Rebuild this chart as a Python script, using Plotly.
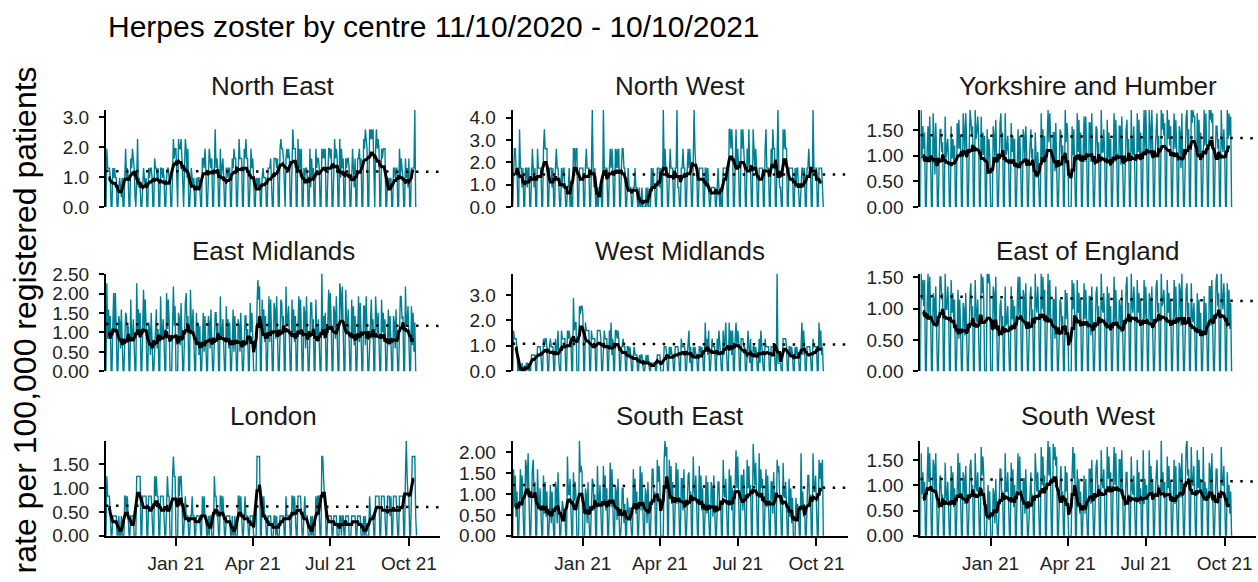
import pandas as pd
import plotly.graph_objects as go

# ---------------- data ----------------
start_date = "2020-10-11"
axis_end = "2021-11-06 12:00"
dates = pd.date_range(start_date, periods=365, freq="D")

centres = ["North East", "North West", "Yorkshire and Humber",
           "East Midlands", "West Midlands", "East of England",
           "London", "South East", "South West"]

# rate per 100,000 = daily count * unit
units = [0.325, 0.87, 0.063, 0.084, 0.32, 0.052, 0.0415, 0.076, 0.063]

# dotted reference line (start value, end value)
ref_start = [1.20, 1.45, 1.40, 1.22, 1.08, 1.20, 0.63, 1.22, 1.13]
ref_end = [1.18, 1.45, 1.34, 1.17, 1.05, 1.12, 0.60, 1.15, 1.08]

y_ticks = [[0, 1, 2, 3], [0, 1, 2, 3, 4], [0, 0.5, 1, 1.5],
           [0, 0.5, 1, 1.5, 2, 2.5], [0, 1, 2, 3], [0, 0.5, 1, 1.5],
           [0, 0.5, 1, 1.5], [0, 0.5, 1, 1.5, 2], [0, 0.5, 1, 1.5]]
y_fmt = [".1f", ".1f", ".2f", ".2f", ".1f", ".2f", ".2f", ".2f", ".2f"]

x_tick_dates = ["2021-01-01", "2021-04-01", "2021-07-01", "2021-10-01"]
x_tick_text = ["Jan 21", "Apr 21", "Jul 21", "Oct 21"]

ne_counts = [
0,6,4,4,4,3,0, 0,4,3,4,3,3,0, 0,2,3,2,1,3,0, 0,4,6,3,4,3,0,
0,5,4,6,5,4,1, 0,3,7,2,3,2,0, 0,3,4,3,2,3,0, 0,4,3,4,4,3,0,
0,5,4,4,3,4,0, 0,4,4,3,4,3,0, 0,3,4,4,3,3,0, 0,6,7,5,6,6,1,
0,7,6,6,7,5,1, 0,4,7,6,3,6,0, 0,3,4,3,2,3,0, 0,3,2,3,3,2,0,
0,5,5,4,6,4,0, 0,5,6,5,4,5,0, 0,4,8,4,5,4,0, 0,6,3,4,5,3,0,
0,4,4,3,4,4,0, 0,5,4,6,5,5,0, 0,5,7,5,5,5,0, 0,6,5,7,5,5,0,
0,3,6,4,5,3,0, 0,3,2,3,2,3,0, 0,3,4,3,3,3,0, 0,4,4,4,5,3,0,
0,5,5,5,4,5,0, 0,6,7,6,6,5,1, 0,5,6,5,6,5,0, 0,7,8,6,6,6,0,
0,7,4,6,3,6,0, 0,4,3,4,4,3,0, 0,6,2,5,3,4,0, 0,6,4,5,5,4,0,
0,6,5,6,5,6,0, 0,5,6,6,5,6,0, 0,6,7,5,6,5,0, 0,7,3,6,4,5,0,
0,5,4,5,5,4,0, 0,3,6,4,2,5,0, 0,5,5,6,4,5,0, 0,7,6,8,7,6,0,
0,8,7,8,7,8,1, 0,6,8,6,7,6,0, 0,6,5,6,6,6,0, 0,3,2,3,2,3,0,
0,4,4,3,4,4,0, 0,6,3,5,4,3,0, 0,5,3,4,2,5,0, 0,4,4,4,4,10,0,
0]

nw_counts = [
0,2,3,3,2,2,0, 0,4,2,2,1,2,0, 0,2,2,1,2,2,0, 0,2,3,2,1,2,0,
0,3,2,2,2,2,0, 0,3,4,3,3,3,0, 0,2,2,2,1,2,0, 0,2,3,2,2,1,0,
0,2,1,2,2,1,0, 0,1,1,2,0,1,0, 0,3,3,2,3,3,0, 0,2,2,2,2,2,0,
0,2,3,2,2,2,0, 0,2,5,2,1,2,0, 0,1,0,1,1,1,0, 0,5,2,2,2,2,0,
0,2,3,2,3,2,0, 0,3,2,3,2,3,0, 0,2,3,3,2,2,0, 0,1,2,1,1,1,0,
0,1,1,2,1,1,0, 0,1,0,0,1,0,0, 0,0,1,0,1,0,0, 0,2,1,2,1,1,0,
0,2,2,2,1,2,0, 0,5,2,3,2,2,0, 0,2,3,2,2,2,0, 0,2,2,5,1,1,0,
0,2,2,3,2,2,0, 0,2,3,2,3,2,0, 0,3,5,3,2,2,0, 0,2,2,2,2,2,0,
0,2,2,1,2,1,0, 0,1,1,1,1,1,0, 0,1,2,1,0,1,0, 0,2,2,2,2,2,0,
0,4,4,3,4,3,0, 0,3,4,2,3,2,0, 0,4,3,4,3,2,0, 0,3,2,4,2,2,0,
0,4,3,2,3,2,0, 0,2,2,2,2,2,0, 0,3,4,2,2,2,0, 0,3,2,4,3,3,0,
0,2,5,2,1,1,0, 0,4,3,4,3,3,0, 0,2,2,2,2,2,0, 0,2,1,2,2,1,0,
0,1,2,2,1,2,0, 0,2,2,3,2,2,0, 0,5,2,2,2,2,0, 0,2,2,2,2,1,0,
0]

yh_counts = [
0,30,15,25,18,23,0, 0,18,25,14,28,15,0, 0,29,21,10,26,17,0, 0,15,24,24,17,20,0,
0,28,15,19,21,14,0, 0,25,15,21,14,19,0, 0,26,18,27,18,22,0, 0,29,24,16,29,21,0,
0,18,30,27,22,25,0, 0,30,21,23,28,22,0, 0,28,16,23,16,22,0, 0,24,14,21,16,0,0,
0,25,22,15,27,16,0, 0,17,26,29,16,23,0, 0,29,16,18,22,15,0, 0,26,17,22,14,21,0,
0,14,24,13,22,14,0, 0,24,22,14,25,17,0, 0,14,22,24,15,18,0, 0,23,11,9,17,9,0,
0,29,15,24,15,22,0, 0,21,30,20,29,22,0, 0,23,23,11,26,15,0, 0,13,24,23,14,19,0,
0,30,20,26,22,0,0, 0,0,25,16,24,15,0, 0,29,17,27,15,23,0, 0,18,28,14,28,17,0,
0,26,26,14,29,18,0, 0,14,25,24,15,20,0, 0,30,17,17,24,16,0, 0,27,15,23,14,21,0,
0,17,29,14,27,17,0, 0,25,25,13,28,17,0, 0,15,24,27,15,21,0, 0,30,18,16,25,16,0,
0,29,17,27,15,23,0, 0,20,30,16,30,19,0, 0,30,24,16,30,20,0, 0,17,26,29,17,22,0,
0,30,24,29,22,26,0, 0,30,21,27,19,25,0, 0,19,29,18,27,18,0, 0,25,23,12,29,16,0,
0,22,28,30,18,24,0, 0,30,26,30,28,28,0, 0,29,17,27,15,23,0, 0,20,30,19,29,19,0,
0,30,27,30,26,29,0, 0,16,25,25,18,21,0, 0,30,20,17,24,17,0, 0,30,21,29,22,28,0,
0]

em_counts = [
0,27,10,19,10,17,0, 0,14,24,12,24,13,0, 0,17,15,7,19,9,0, 0,7,18,17,9,14,0,
0,22,10,10,16,9,0, 0,27,12,19,11,18,0, 0,13,25,13,22,14,0, 0,15,13,5,18,7,0,
0,7,16,19,7,13,0, 0,23,11,11,16,10,0, 0,24,13,22,15,0,0, 0,14,26,14,20,0,0,
0,18,16,8,21,10,0, 0,12,21,24,13,17,0, 0,25,15,12,19,12,0, 0,18,8,15,5,14,0,
0,8,18,6,17,8,0, 0,17,15,7,19,9,0, 0,8,18,18,9,14,0, 0,23,11,11,16,10,0,
0,20,10,16,7,15,0, 0,9,19,6,17,9,0, 0,16,14,6,18,8,0, 0,6,17,17,8,13,0,
0,21,12,18,11,0,0, 0,0,20,28,22,26,0, 0,22,12,19,9,17,0, 0,13,23,9,22,12,0,
0,21,19,10,23,12,0, 0,11,22,21,12,17,0, 0,26,14,15,20,12,0, 0,22,12,19,9,17,0,
0,13,23,12,22,12,0, 0,20,18,7,23,11,0, 0,10,21,21,11,16,0, 0,22,12,9,16,9,0,
0,30,12,17,10,18,0, 0,15,25,14,24,14,0, 0,20,18,10,23,11,0, 0,27,24,16,26,15,0,
0,25,15,12,19,12,0, 0,22,10,20,8,17,0, 0,11,23,9,21,11,0, 0,20,20,8,23,12,0,
0,10,19,22,10,16,0, 0,23,13,11,18,10,0, 0,22,12,18,9,16,0, 0,9,19,8,17,9,0,
0,17,15,7,19,9,0, 0,14,23,23,16,17,0, 0,26,14,15,20,12,0, 0,20,8,18,6,15,0,
0]

wm_counts = [
0,5,4,4,4,3,0, 0,1,0,0,1,0,0, 0,0,1,1,0,1,0, 0,2,2,2,2,2,0,
0,3,3,3,3,2,0, 0,4,3,4,4,3,0, 0,3,4,3,3,3,0, 0,4,2,3,5,1,0,
0,5,4,4,4,4,0, 0,5,4,5,4,4,0, 0,9,5,6,6,0,0, 0,8,7,8,8,7,0,
0,6,5,5,5,5,0, 0,5,4,4,4,4,0, 0,5,5,5,5,4,0, 0,4,5,4,4,4,0,
0,5,3,6,2,4,0, 0,5,5,4,5,4,0, 0,3,3,4,3,3,0, 0,3,3,2,3,2,0,
0,2,3,2,2,2,0, 0,2,1,2,2,1,0, 0,1,2,1,2,1,0, 0,1,1,1,1,1,0,
0,2,2,2,2,0,0, 0,0,3,3,3,2,0, 0,3,2,3,2,2,0, 0,3,3,3,3,2,0,
0,4,3,3,3,3,0, 0,2,4,5,1,3,0, 0,3,2,3,2,2,0, 0,3,3,2,3,2,0,
0,6,3,4,2,5,0, 0,3,4,3,3,3,0, 0,4,2,5,3,1,0, 0,5,2,4,6,2,0,
0,6,3,5,2,5,0, 0,4,6,3,5,4,0, 0,4,4,4,3,3,0, 0,2,5,3,1,4,0,
0,3,3,2,3,2,0, 0,4,1,5,3,2,0, 0,4,3,3,3,3,0, 0,3,3,3,3,2,0,
0,12,1,1,1,1,0, 0,4,4,4,4,3,0, 0,3,3,2,3,2,0, 0,3,2,3,2,2,0,
0,3,6,2,5,3,0, 0,3,3,3,3,2,0, 0,4,3,3,3,3,0, 0,6,3,5,2,3,0,
0]

ee_counts = [
0,30,22,28,20,28,0, 0,20,30,16,29,19,0, 0,24,22,14,26,15,0, 0,20,29,29,22,24,0,
0,30,19,19,26,20,0, 0,28,18,24,16,22,0, 0,13,25,10,22,13,0, 0,21,19,11,24,12,0,
0,15,24,27,15,20,0, 0,28,18,15,22,14,0, 0,30,24,29,22,0,0, 0,30,27,30,27,0,0,
0,26,24,13,29,16,0, 0,11,20,22,11,17,0, 0,26,14,15,20,12,0, 0,26,16,22,13,20,0,
0,20,29,17,29,19,0, 0,25,23,14,27,16,0, 0,14,23,26,15,19,0, 0,30,21,18,26,19,0,
0,30,19,29,18,25,0, 0,18,30,15,28,17,0, 0,22,22,10,26,14,0, 0,11,22,21,12,17,0,
0,25,16,24,16,0,0, 0,0,28,19,27,18,0, 0,28,18,24,16,22,0, 0,17,27,16,25,16,0,
0,23,23,11,26,14,0, 0,15,24,26,16,20,0, 0,30,20,18,24,16,0, 0,26,14,24,13,20,0,
0,17,29,14,25,16,0, 0,22,20,12,25,13,0, 0,17,26,29,17,21,0, 0,30,20,18,26,20,0,
0,28,18,24,16,22,0, 0,18,28,16,26,17,0, 0,24,22,14,26,15,0, 0,17,26,28,18,21,0,
0,30,20,21,25,20,0, 0,28,18,24,16,22,0, 0,18,28,16,26,17,0, 0,27,25,14,30,18,0,
0,16,25,27,16,21,0, 0,27,17,15,21,14,0, 0,24,12,22,11,18,0, 0,13,23,11,21,13,0,
0,26,26,14,28,16,0, 0,19,28,30,20,24,0, 0,30,22,19,27,20,0, 0,27,15,25,13,21,0,
0]

lo_counts = [
0,30,20,20,20,10,0, 0,10,10,10,10,10,0, 0,10,0,0,10,0,0, 0,20,20,10,20,10,0,
0,10,10,10,10,0,0, 0,30,30,30,30,30,0, 0,20,20,20,20,20,0, 0,20,20,20,20,10,0,
0,30,20,30,20,20,0, 0,20,20,20,20,10,0, 0,20,30,20,20,0,0, 0,30,40,30,30,0,0,
0,30,20,30,30,20,0, 0,10,20,10,10,10,0, 0,10,10,20,10,10,0, 0,10,10,10,10,10,0,
0,20,10,20,10,10,0, 0,10,0,10,10,0,0, 0,30,20,20,10,10,0, 0,20,20,10,20,10,0,
0,10,10,10,10,10,0, 0,10,0,0,10,0,0, 0,20,20,10,20,10,0, 0,10,20,10,10,10,0,
0,10,10,10,10,0,0, 0,0,40,40,40,40,0, 0,20,10,20,10,10,0, 0,10,10,10,10,0,0,
0,10,10,0,10,0,0, 0,10,10,10,10,10,0, 0,20,10,10,10,10,0, 0,20,20,10,20,10,0,
0,20,20,20,20,10,0, 0,10,20,10,10,10,0, 0,0,10,0,10,0,0, 0,20,10,20,20,10,0,
0,40,40,30,20,20,0, 0,10,10,10,10,10,0, 0,10,10,10,10,0,0, 0,10,10,0,10,10,0,
0,10,10,10,10,0,0, 0,10,10,10,10,10,0, 0,10,10,10,10,0,0, 0,10,0,10,0,0,0,
0,20,10,10,10,10,0, 0,20,20,20,20,20,0, 0,20,20,20,20,10,0, 0,20,20,20,10,20,0,
0,20,20,20,20,10,0, 0,20,20,20,20,20,0, 0,30,48,30,20,20,0, 0,30,40,40,40,40,10,
0]

se_counts = [
0,21,9,19,6,14,0, 0,11,21,10,19,9,0, 0,24,22,14,26,15,0, 0,12,21,24,13,17,0,
0,21,11,8,15,8,0, 0,19,7,17,6,14,0, 0,6,16,4,14,6,0, 0,17,15,4,20,8,0,
0,4,11,9,5,6,0, 0,25,13,13,18,10,0, 0,20,11,17,12,0,0, 0,30,20,22,20,0,0,
0,15,13,4,17,6,0, 0,7,18,17,8,13,0, 0,22,12,9,16,9,0, 0,22,10,19,8,15,0,
0,11,23,9,21,10,0, 0,16,14,5,18,7,0, 0,4,15,15,4,10,0, 0,12,6,5,9,5,0,
0,21,9,18,7,14,0, 0,10,22,8,20,9,0, 0,15,13,4,17,6,0, 0,10,21,21,11,14,0,
0,24,17,22,16,0,0, 0,0,24,30,25,28,0, 0,24,12,22,10,17,0, 0,13,23,10,21,11,0,
0,18,18,8,21,9,0, 0,10,19,20,11,14,0, 0,25,15,12,19,10,0, 0,22,10,19,8,15,0,
0,9,19,7,17,7,0, 0,17,15,6,19,7,0, 0,6,17,17,8,11,0, 0,24,14,12,18,9,0,
0,21,11,19,8,15,0, 0,17,27,15,25,13,0, 0,19,19,8,21,9,0, 0,24,15,22,13,16,0,
0,29,19,16,23,12,0, 0,26,12,21,15,18,0, 0,11,21,9,19,10,0, 0,17,17,7,20,9,0,
0,24,20,22,12,10,0, 0,23,13,12,17,9,0, 0,18,6,15,4,12,0, 0,0,12,6,10,7,0,
0,26,8,14,6,10,0, 0,8,19,19,9,13,0, 0,26,14,14,19,10,0, 0,24,18,23,14,24,0,
0]

sw_counts = [
0,26,13,20,11,17,0, 0,18,28,17,26,14,0, 0,24,22,14,26,12,0, 0,8,19,18,9,13,0,
0,23,13,11,17,8,0, 0,22,10,20,9,15,0, 0,14,26,12,23,12,0, 0,20,18,10,22,10,0,
0,13,22,24,14,16,0, 0,26,16,14,20,11,0, 0,28,19,25,19,0,0, 0,7,16,5,14,0,0,
0,15,13,4,18,6,0, 0,10,21,21,12,14,0, 0,26,14,14,20,10,0, 0,23,11,21,9,16,0,
0,16,26,14,25,12,0, 0,18,18,7,21,8,0, 0,9,18,20,9,13,0, 0,26,16,14,20,11,0,
0,28,16,25,14,19,0, 0,20,30,19,28,16,0, 0,29,24,28,22,25,0, 0,10,19,22,11,14,0,
0,22,14,20,13,0,0, 0,0,19,28,18,26,0, 0,21,9,18,7,14,0, 0,9,19,7,18,8,0,
0,21,21,10,24,11,0, 0,13,22,24,14,16,0, 0,27,17,15,21,11,0, 0,28,18,25,15,20,0,
0,18,28,16,26,14,0, 0,24,24,13,27,12,0, 0,9,20,20,10,13,0, 0,25,15,13,19,9,0,
0,24,12,20,10,15,0, 0,27,10,18,12,16,0, 0,27,14,22,13,18,0, 0,13,22,24,14,16,0,
0,30,14,20,12,17,0, 0,25,15,22,12,17,0, 0,12,24,10,22,10,0, 0,23,21,12,26,12,0,
0,19,28,30,19,21,0, 0,28,16,16,22,12,0, 0,27,15,24,14,18,0, 0,28,11,17,12,15,0,
0,23,21,12,26,12,0, 0,10,21,21,10,14,0, 0,28,16,16,22,12,0, 0,20,10,16,7,14,0,
0]

all_counts = [ne_counts, nw_counts, yh_counts, em_counts, wm_counts,
              ee_counts, lo_counts, se_counts, sw_counts]

# ---------------- layout geometry ----------------
W, H = 1258, 582
# vertical placement calibrated to the rendered page (pixel -> paper)
V_OFF, V_SPAN = 10.2, 559.9


def py(px):
    return 1 - (px - V_OFF) / V_SPAN


col_px = [(106, 440), (512.7, 847.7), (920.3, 1256)]
row_px = [(110, 206.7), (273.3, 370.7), (440, 535)]
strip_px = [86, 251, 415]

TEAL = "#007f93"
FONT = "Liberation Sans, Arial, sans-serif"

fig = go.Figure()
annotations = []

for i, name in enumerate(centres):
    r, c = divmod(i, 3)
    counts = all_counts[i]
    n = min(len(counts), len(dates))
    d = dates[:n]
    rates = pd.Series([v * units[i] for v in counts[:n]], index=d)
    roll = rates.rolling(7, center=True, min_periods=7).mean()
    sfx = "" if i == 0 else str(i + 1)
    xa, ya = "x" + sfx, "y" + sfx

    fig.add_trace(go.Scatter(x=d, y=rates.values, mode="lines",
                             line=dict(color=TEAL, width=1.4),
                             xaxis=xa, yaxis=ya, showlegend=False,
                             hoverinfo="skip"))
    fig.add_trace(go.Scatter(x=[d[0], pd.Timestamp(axis_end)],
                             y=[ref_start[i], ref_end[i]], mode="lines",
                             line=dict(color="black", width=2.5, dash="2.5px,7.5px"),
                             xaxis=xa, yaxis=ya, showlegend=False,
                             hoverinfo="skip"))
    fig.add_trace(go.Scatter(x=d, y=roll.values, mode="lines",
                             line=dict(color="black", width=3),
                             xaxis=xa, yaxis=ya, showlegend=False,
                             hoverinfo="skip"))

    x0, x1 = col_px[c]
    t0, b0 = row_px[r]
    bottom = (r == 2)
    xdict = dict(domain=[x0 / W, x1 / W], anchor=ya,
                 range=[d[0], pd.Timestamp(axis_end)],
                 showgrid=False, zeroline=False,
                 showline=bottom, linecolor="black", linewidth=2,
                 ticks="outside" if bottom else "", ticklen=8, tickwidth=2,
                 tickcolor="black",
                 showticklabels=bottom,
                 tickvals=x_tick_dates, ticktext=x_tick_text,
                 tickfont=dict(size=19, color="#222222", family=FONT),
                 ticklabelstandoff=1)
    ydict = dict(domain=[py(b0), py(t0)], anchor=xa,
                 range=[0, float(rates.max())],
                 showgrid=False, zeroline=False,
                 showline=True, linecolor="black", linewidth=2,
                 ticks="outside", ticklen=5, tickwidth=2, tickcolor="black",
                 tickvals=y_ticks[i], tickformat=y_fmt[i],
                 tickfont=dict(size=19, color="#222222", family=FONT),
                 ticklabelstandoff=6)
    fig.layout["xaxis" + sfx] = xdict
    fig.layout["yaxis" + sfx] = ydict

    annotations.append(dict(text=name, x=(x0 + x1) / 2 / W, y=py(strip_px[r]),
                            xref="paper", yref="paper", xanchor="center",
                            yanchor="middle", showarrow=False,
                            font=dict(size=26, color="#1a1a1a", family=FONT)))

annotations.append(dict(text="Herpes zoster by centre 11/10/2020 - 10/10/2021",
                        x=106 / W, y=py(27), xref="paper", yref="paper",
                        xanchor="left", yanchor="middle", showarrow=False,
                        font=dict(size=30, color="black", family=FONT)))
annotations.append(dict(text="rate per 100,000 registered patients",
                        x=25 / W, y=py(320), xref="paper", yref="paper",
                        xanchor="center", yanchor="middle", textangle=-90,
                        showarrow=False,
                        font=dict(size=32, color="black", family=FONT)))

fig.update_layout(width=W, height=H, margin=dict(l=0, r=0, t=0, b=0),
                  paper_bgcolor="white", plot_bgcolor="white",
                  annotations=annotations, showlegend=False,
                  font=dict(family=FONT))

page_fix = (
    "document.documentElement.style.margin='0px';"
    "document.documentElement.style.padding='0px';"
    "document.documentElement.style.overflow='hidden';"
    "document.body.style.margin='0px';"
    "document.body.style.padding='0px';"
    "document.body.style.overflow='hidden';"
    "var gd=document.getElementById('{plot_id}');"
    "gd.style.position='absolute';gd.style.left='0px';gd.style.top='0px';"
)

fig.write_html("out.html", config={"displayModeBar": False},
               post_script=page_fix)
